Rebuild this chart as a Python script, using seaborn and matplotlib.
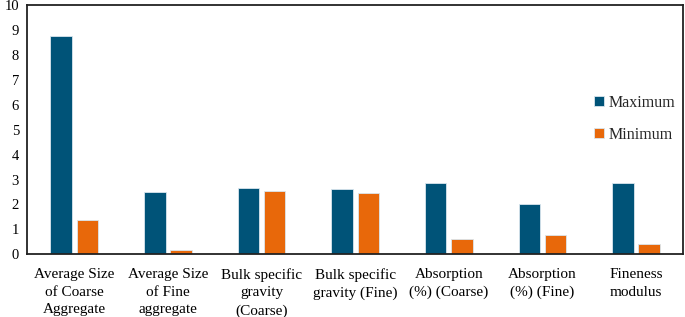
import pandas as pd
import matplotlib.pyplot as plt
import seaborn as sns

# data
categories = [
    "Average Size\nof Coarse\nAggregate",
    "Average Size\nof Fine\naggregate",
    "Bulk specific\ngravity\n(Coarse)",
    "Bulk specific\ngravity (Fine)",
    "Absorption\n(%) (Coarse)",
    "Absorption\n(%) (Fine)",
    "Fineness\nmodulus",
]
maximum = [8.75, 2.50, 2.68, 2.61, 2.88, 2.00, 2.87]
minimum = [1.38, 0.16, 2.55, 2.46, 0.60, 0.79, 0.43]

df = pd.DataFrame({"Category": categories, "Maximum": maximum, "Minimum": minimum})
df_long = df.melt(id_vars="Category", var_name="Series", value_name="Value")

sns.set_theme(style="white")
plt.rcParams["font.family"] = ["Liberation Serif", "DejaVu Serif"]

fig, ax = plt.subplots(figsize=(6.85, 3.17), dpi=100)
fig.subplots_adjust(left=0.04, right=0.997, top=0.983, bottom=0.198)

sns.barplot(
    data=df_long, x="Category", y="Value", hue="Series",
    palette={"Maximum": "#005378", "Minimum": "#E8680A"}, saturation=1,
    width=0.56, gap=0.18, edgecolor="#d9e6ee", linewidth=0.6, ax=ax,
)

ax.set_ylim(0, 10)
ax.set_yticks(range(0, 11))
ax.set_xlabel("")
ax.set_ylabel("")
ax.tick_params(axis="both", length=0, colors="black")
ax.tick_params(axis="x", pad=10, labelsize=11)
ax.tick_params(axis="y", pad=6, labelsize=10.5)
for lbl in ax.get_xticklabels():
    lbl.set_linespacing(1.45)
for s in ax.spines.values():
    s.set_color("#222222")
    s.set_linewidth(1.3)

leg = ax.legend(
    loc="center left", bbox_to_anchor=(0.843, 0.545), frameon=False,
    fontsize=11.5, handlelength=0.6, handleheight=0.6, handletextpad=0.3,
    labelspacing=1.0,
)

plt.savefig("out.png", dpi=100)
